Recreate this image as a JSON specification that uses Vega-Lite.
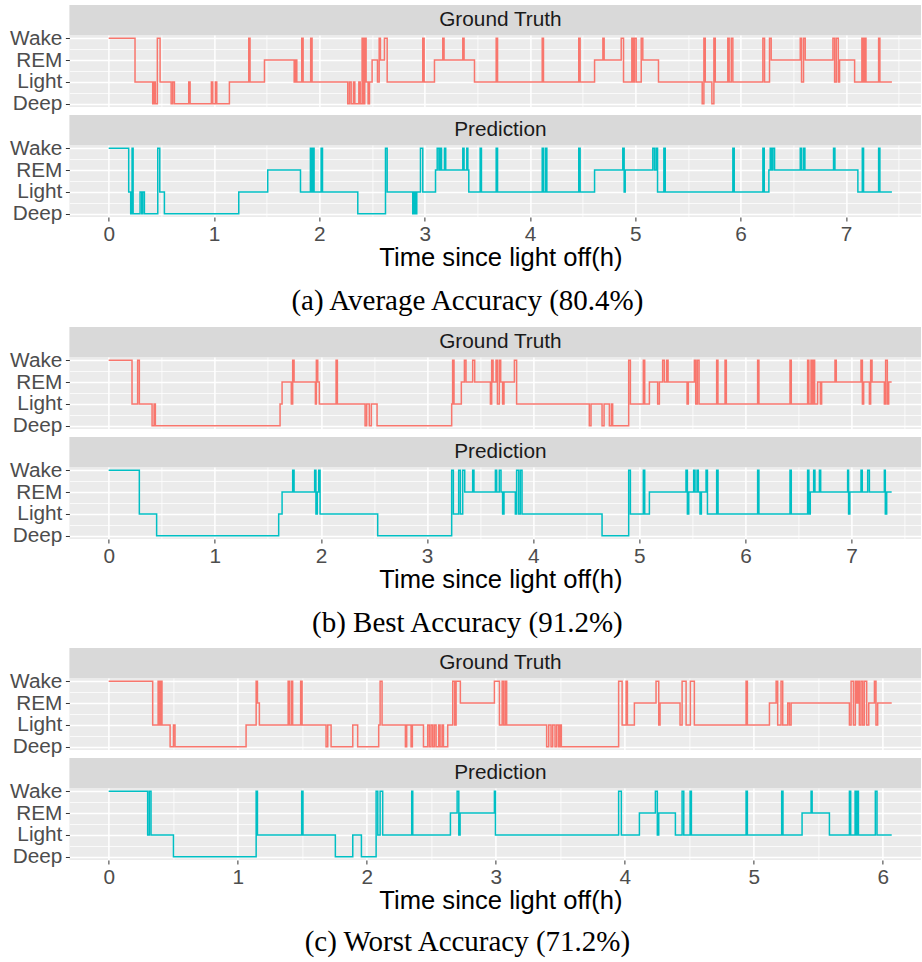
{
"$schema": "https://vega.github.io/schema/vega-lite/v6.json",
"padding": {"left": 9.4, "top": 5, "right": 0, "bottom": 0},
"background": "white",
"config": {
  "view": {"stroke": null},
  "font": "Liberation Sans",
  "axis": {"gridColor": "#FFFFFF", "domain": false, "labelFont": "Liberation Sans", "labelFontSize": 20.8, "labelColor": "#4D4D4D", "tickColor": "#333333", "tickSize": 4, "labelPadding": 3.5, "titleFont": "Liberation Sans", "titleFontSize": 25.6, "titleFontWeight": "normal", "titleColor": "#000000", "labelFlush": false, "labelOverlap": false, "labelBound": false}
},
"datasets": {
"a_gt": [{"t":0,"stage":4},{"t":0.25,"stage":2},{"t":0.418,"stage":1},{"t":0.431,"stage":2},{"t":0.443,"stage":1},{"t":0.462,"stage":4},{"t":0.488,"stage":2},{"t":0.593,"stage":1},{"t":0.608,"stage":2},{"t":0.624,"stage":1},{"t":0.76,"stage":2},{"t":0.773,"stage":1},{"t":0.975,"stage":2},{"t":0.988,"stage":1},{"t":1.013,"stage":2},{"t":1.026,"stage":1},{"t":1.146,"stage":2},{"t":1.33,"stage":4},{"t":1.342,"stage":2},{"t":1.479,"stage":3},{"t":1.761,"stage":2},{"t":1.773,"stage":3},{"t":1.786,"stage":2},{"t":1.833,"stage":4},{"t":1.846,"stage":2},{"t":1.918,"stage":4},{"t":1.931,"stage":2},{"t":2.27,"stage":1},{"t":2.286,"stage":2},{"t":2.302,"stage":1},{"t":2.324,"stage":2},{"t":2.337,"stage":1},{"t":2.375,"stage":2},{"t":2.388,"stage":1},{"t":2.406,"stage":4},{"t":2.419,"stage":1},{"t":2.431,"stage":4},{"t":2.444,"stage":2},{"t":2.463,"stage":1},{"t":2.476,"stage":2},{"t":2.501,"stage":3},{"t":2.552,"stage":2},{"t":2.568,"stage":4},{"t":2.58,"stage":3},{"t":2.618,"stage":4},{"t":2.644,"stage":2},{"t":2.982,"stage":4},{"t":2.995,"stage":2},{"t":3.093,"stage":3},{"t":3.172,"stage":4},{"t":3.184,"stage":3},{"t":3.362,"stage":4},{"t":3.374,"stage":3},{"t":3.473,"stage":2},{"t":3.679,"stage":4},{"t":3.692,"stage":2},{"t":4.116,"stage":4},{"t":4.128,"stage":2},{"t":4.463,"stage":4},{"t":4.476,"stage":2},{"t":4.613,"stage":3},{"t":4.692,"stage":4},{"t":4.704,"stage":3},{"t":4.866,"stage":4},{"t":4.888,"stage":2},{"t":4.967,"stage":4},{"t":4.98,"stage":2},{"t":4.992,"stage":4},{"t":5.008,"stage":2},{"t":5.056,"stage":4},{"t":5.071,"stage":3},{"t":5.22,"stage":2},{"t":5.635,"stage":1},{"t":5.651,"stage":4},{"t":5.664,"stage":2},{"t":5.727,"stage":1},{"t":5.746,"stage":4},{"t":5.759,"stage":2},{"t":5.878,"stage":4},{"t":5.891,"stage":2},{"t":5.911,"stage":4},{"t":5.926,"stage":2},{"t":6.211,"stage":4},{"t":6.227,"stage":2},{"t":6.274,"stage":4},{"t":6.29,"stage":3},{"t":6.566,"stage":4},{"t":6.578,"stage":2},{"t":6.597,"stage":4},{"t":6.613,"stage":3},{"t":6.876,"stage":4},{"t":6.892,"stage":2},{"t":6.908,"stage":4},{"t":6.927,"stage":2},{"t":6.939,"stage":3},{"t":7.082,"stage":2},{"t":7.151,"stage":4},{"t":7.164,"stage":2},{"t":7.177,"stage":4},{"t":7.19,"stage":2},{"t":7.31,"stage":4},{"t":7.322,"stage":2},{"t":7.436,"stage":2}],
"a_pred": [{"t":0,"stage":4},{"t":0.19,"stage":2},{"t":0.209,"stage":1},{"t":0.222,"stage":4},{"t":0.232,"stage":1},{"t":0.298,"stage":2},{"t":0.314,"stage":1},{"t":0.323,"stage":2},{"t":0.339,"stage":1},{"t":0.466,"stage":4},{"t":0.485,"stage":2},{"t":0.529,"stage":1},{"t":1.235,"stage":2},{"t":1.51,"stage":3},{"t":1.821,"stage":2},{"t":1.915,"stage":4},{"t":1.925,"stage":2},{"t":1.937,"stage":4},{"t":1.95,"stage":2},{"t":2.017,"stage":4},{"t":2.03,"stage":2},{"t":2.365,"stage":1},{"t":2.628,"stage":4},{"t":2.644,"stage":2},{"t":2.887,"stage":1},{"t":2.9,"stage":2},{"t":2.913,"stage":1},{"t":2.925,"stage":2},{"t":2.96,"stage":4},{"t":2.982,"stage":2},{"t":3.103,"stage":3},{"t":3.119,"stage":4},{"t":3.135,"stage":3},{"t":3.147,"stage":4},{"t":3.16,"stage":3},{"t":3.188,"stage":4},{"t":3.2,"stage":3},{"t":3.362,"stage":4},{"t":3.374,"stage":3},{"t":3.4,"stage":4},{"t":3.41,"stage":3},{"t":3.419,"stage":2},{"t":3.527,"stage":4},{"t":3.539,"stage":2},{"t":3.679,"stage":4},{"t":3.692,"stage":2},{"t":4.116,"stage":4},{"t":4.128,"stage":2},{"t":4.147,"stage":4},{"t":4.16,"stage":2},{"t":4.463,"stage":4},{"t":4.476,"stage":2},{"t":4.613,"stage":3},{"t":4.881,"stage":4},{"t":4.894,"stage":2},{"t":4.904,"stage":3},{"t":5.166,"stage":4},{"t":5.182,"stage":3},{"t":5.198,"stage":4},{"t":5.211,"stage":2},{"t":5.271,"stage":4},{"t":5.284,"stage":2},{"t":5.926,"stage":4},{"t":5.939,"stage":2},{"t":6.211,"stage":4},{"t":6.224,"stage":2},{"t":6.268,"stage":3},{"t":6.281,"stage":4},{"t":6.294,"stage":3},{"t":6.306,"stage":4},{"t":6.322,"stage":3},{"t":6.566,"stage":4},{"t":6.578,"stage":3},{"t":6.597,"stage":4},{"t":6.61,"stage":3},{"t":6.882,"stage":4},{"t":6.895,"stage":3},{"t":7.113,"stage":2},{"t":7.155,"stage":4},{"t":7.167,"stage":2},{"t":7.31,"stage":4},{"t":7.322,"stage":2},{"t":7.436,"stage":2}],
"b_gt": [{"t":0,"stage":4},{"t":0.22,"stage":2},{"t":0.273,"stage":4},{"t":0.289,"stage":2},{"t":0.409,"stage":1},{"t":0.428,"stage":2},{"t":0.44,"stage":1},{"t":1.615,"stage":2},{"t":1.634,"stage":3},{"t":1.721,"stage":2},{"t":1.734,"stage":4},{"t":1.747,"stage":3},{"t":1.948,"stage":2},{"t":1.957,"stage":4},{"t":1.97,"stage":3},{"t":1.985,"stage":2},{"t":2.143,"stage":4},{"t":2.155,"stage":2},{"t":2.416,"stage":1},{"t":2.431,"stage":2},{"t":2.456,"stage":1},{"t":2.475,"stage":2},{"t":2.529,"stage":1},{"t":3.232,"stage":2},{"t":3.241,"stage":4},{"t":3.254,"stage":2},{"t":3.323,"stage":3},{"t":3.352,"stage":4},{"t":3.367,"stage":3},{"t":3.43,"stage":4},{"t":3.449,"stage":3},{"t":3.597,"stage":2},{"t":3.609,"stage":4},{"t":3.622,"stage":3},{"t":3.65,"stage":4},{"t":3.663,"stage":2},{"t":3.681,"stage":4},{"t":3.694,"stage":3},{"t":3.712,"stage":2},{"t":3.725,"stage":3},{"t":3.823,"stage":4},{"t":3.844,"stage":2},{"t":4.529,"stage":1},{"t":4.545,"stage":2},{"t":4.649,"stage":1},{"t":4.668,"stage":2},{"t":4.718,"stage":1},{"t":4.737,"stage":2},{"t":4.749,"stage":1},{"t":4.9,"stage":4},{"t":4.916,"stage":2},{"t":5.038,"stage":4},{"t":5.051,"stage":2},{"t":5.095,"stage":3},{"t":5.173,"stage":2},{"t":5.189,"stage":3},{"t":5.22,"stage":4},{"t":5.236,"stage":3},{"t":5.258,"stage":4},{"t":5.271,"stage":3},{"t":5.45,"stage":2},{"t":5.462,"stage":3},{"t":5.519,"stage":4},{"t":5.532,"stage":2},{"t":5.547,"stage":4},{"t":5.563,"stage":2},{"t":5.729,"stage":4},{"t":5.741,"stage":2},{"t":5.808,"stage":4},{"t":5.82,"stage":2},{"t":6.115,"stage":4},{"t":6.127,"stage":2},{"t":6.42,"stage":4},{"t":6.432,"stage":2},{"t":6.586,"stage":4},{"t":6.598,"stage":2},{"t":6.618,"stage":4},{"t":6.63,"stage":2},{"t":6.64,"stage":4},{"t":6.652,"stage":2},{"t":6.68,"stage":3},{"t":6.706,"stage":2},{"t":6.718,"stage":3},{"t":6.844,"stage":4},{"t":6.856,"stage":3},{"t":7.089,"stage":4},{"t":7.102,"stage":2},{"t":7.114,"stage":3},{"t":7.168,"stage":2},{"t":7.18,"stage":4},{"t":7.193,"stage":3},{"t":7.309,"stage":2},{"t":7.321,"stage":4},{"t":7.337,"stage":2},{"t":7.35,"stage":3},{"t":7.378,"stage":3}],
"b_pred": [{"t":0,"stage":4},{"t":0.289,"stage":2},{"t":0.452,"stage":1},{"t":1.602,"stage":2},{"t":1.634,"stage":3},{"t":1.734,"stage":4},{"t":1.747,"stage":3},{"t":1.941,"stage":4},{"t":1.953,"stage":2},{"t":1.966,"stage":3},{"t":1.979,"stage":4},{"t":1.992,"stage":2},{"t":2.535,"stage":1},{"t":3.232,"stage":4},{"t":3.248,"stage":2},{"t":3.298,"stage":4},{"t":3.314,"stage":2},{"t":3.336,"stage":4},{"t":3.355,"stage":3},{"t":3.43,"stage":4},{"t":3.442,"stage":3},{"t":3.644,"stage":4},{"t":3.656,"stage":3},{"t":3.681,"stage":4},{"t":3.697,"stage":3},{"t":3.712,"stage":2},{"t":3.725,"stage":3},{"t":3.832,"stage":2},{"t":3.844,"stage":4},{"t":3.863,"stage":2},{"t":3.879,"stage":4},{"t":3.895,"stage":2},{"t":4.649,"stage":1},{"t":4.9,"stage":4},{"t":4.916,"stage":2},{"t":5.038,"stage":4},{"t":5.051,"stage":2},{"t":5.095,"stage":3},{"t":5.44,"stage":4},{"t":5.453,"stage":2},{"t":5.466,"stage":3},{"t":5.512,"stage":4},{"t":5.525,"stage":3},{"t":5.544,"stage":4},{"t":5.556,"stage":3},{"t":5.572,"stage":2},{"t":5.585,"stage":3},{"t":5.629,"stage":4},{"t":5.642,"stage":2},{"t":5.729,"stage":4},{"t":5.742,"stage":2},{"t":6.115,"stage":4},{"t":6.127,"stage":2},{"t":6.42,"stage":4},{"t":6.432,"stage":2},{"t":6.586,"stage":4},{"t":6.598,"stage":2},{"t":6.611,"stage":3},{"t":6.643,"stage":4},{"t":6.655,"stage":3},{"t":6.697,"stage":4},{"t":6.709,"stage":3},{"t":6.963,"stage":4},{"t":6.972,"stage":2},{"t":6.984,"stage":3},{"t":7.089,"stage":4},{"t":7.101,"stage":3},{"t":7.152,"stage":4},{"t":7.168,"stage":3},{"t":7.309,"stage":4},{"t":7.318,"stage":2},{"t":7.331,"stage":3},{"t":7.378,"stage":3}],
"c_gt": [{"t":0,"stage":4},{"t":0.341,"stage":2},{"t":0.383,"stage":4},{"t":0.393,"stage":2},{"t":0.403,"stage":4},{"t":0.413,"stage":2},{"t":0.476,"stage":1},{"t":0.502,"stage":2},{"t":0.514,"stage":1},{"t":1.065,"stage":2},{"t":1.143,"stage":4},{"t":1.153,"stage":3},{"t":1.168,"stage":2},{"t":1.391,"stage":4},{"t":1.401,"stage":2},{"t":1.416,"stage":4},{"t":1.426,"stage":2},{"t":1.488,"stage":4},{"t":1.499,"stage":2},{"t":1.685,"stage":1},{"t":1.698,"stage":2},{"t":1.724,"stage":1},{"t":1.892,"stage":2},{"t":1.93,"stage":1},{"t":2.093,"stage":2},{"t":2.104,"stage":4},{"t":2.119,"stage":2},{"t":2.3,"stage":1},{"t":2.31,"stage":2},{"t":2.344,"stage":1},{"t":2.354,"stage":2},{"t":2.44,"stage":1},{"t":2.473,"stage":2},{"t":2.486,"stage":1},{"t":2.499,"stage":2},{"t":2.512,"stage":1},{"t":2.525,"stage":2},{"t":2.538,"stage":1},{"t":2.558,"stage":2},{"t":2.569,"stage":1},{"t":2.584,"stage":2},{"t":2.595,"stage":1},{"t":2.628,"stage":2},{"t":2.667,"stage":4},{"t":2.682,"stage":2},{"t":2.693,"stage":4},{"t":2.726,"stage":3},{"t":2.99,"stage":4},{"t":3.029,"stage":2},{"t":3.05,"stage":4},{"t":3.062,"stage":2},{"t":3.075,"stage":4},{"t":3.085,"stage":2},{"t":3.395,"stage":1},{"t":3.411,"stage":2},{"t":3.429,"stage":1},{"t":3.442,"stage":2},{"t":3.46,"stage":1},{"t":3.473,"stage":2},{"t":3.488,"stage":1},{"t":3.499,"stage":2},{"t":3.509,"stage":1},{"t":3.953,"stage":4},{"t":3.98,"stage":2},{"t":4.011,"stage":4},{"t":4.021,"stage":2},{"t":4.075,"stage":3},{"t":4.243,"stage":4},{"t":4.264,"stage":2},{"t":4.274,"stage":3},{"t":4.429,"stage":2},{"t":4.445,"stage":4},{"t":4.476,"stage":2},{"t":4.509,"stage":4},{"t":4.54,"stage":2},{"t":4.941,"stage":4},{"t":4.951,"stage":2},{"t":5.122,"stage":3},{"t":5.174,"stage":4},{"t":5.186,"stage":2},{"t":5.212,"stage":4},{"t":5.225,"stage":2},{"t":5.264,"stage":3},{"t":5.277,"stage":2},{"t":5.29,"stage":3},{"t":5.742,"stage":2},{"t":5.755,"stage":4},{"t":5.773,"stage":2},{"t":5.788,"stage":4},{"t":5.798,"stage":3},{"t":5.809,"stage":4},{"t":5.819,"stage":2},{"t":5.832,"stage":4},{"t":5.845,"stage":2},{"t":5.858,"stage":4},{"t":5.876,"stage":2},{"t":5.892,"stage":3},{"t":5.936,"stage":4},{"t":5.948,"stage":2},{"t":5.961,"stage":3},{"t":6.07,"stage":3}],
"c_pred": [{"t":0,"stage":4},{"t":0.302,"stage":2},{"t":0.315,"stage":4},{"t":0.328,"stage":2},{"t":0.502,"stage":1},{"t":1.143,"stage":4},{"t":1.153,"stage":2},{"t":1.496,"stage":4},{"t":1.506,"stage":2},{"t":1.757,"stage":1},{"t":1.892,"stage":2},{"t":1.959,"stage":1},{"t":2.073,"stage":4},{"t":2.086,"stage":2},{"t":2.104,"stage":4},{"t":2.124,"stage":2},{"t":2.349,"stage":4},{"t":2.357,"stage":2},{"t":2.649,"stage":3},{"t":2.701,"stage":4},{"t":2.714,"stage":2},{"t":2.724,"stage":3},{"t":2.99,"stage":4},{"t":2.998,"stage":2},{"t":3.953,"stage":4},{"t":3.974,"stage":2},{"t":4.114,"stage":3},{"t":4.238,"stage":4},{"t":4.253,"stage":2},{"t":4.264,"stage":3},{"t":4.393,"stage":2},{"t":4.445,"stage":4},{"t":4.458,"stage":2},{"t":4.507,"stage":4},{"t":4.517,"stage":2},{"t":4.941,"stage":4},{"t":4.951,"stage":2},{"t":5.217,"stage":4},{"t":5.227,"stage":2},{"t":5.375,"stage":3},{"t":5.445,"stage":4},{"t":5.453,"stage":3},{"t":5.587,"stage":2},{"t":5.742,"stage":4},{"t":5.752,"stage":2},{"t":5.786,"stage":4},{"t":5.793,"stage":2},{"t":5.804,"stage":4},{"t":5.812,"stage":2},{"t":5.943,"stage":4},{"t":5.956,"stage":2},{"t":6.07,"stage":2}]
},
"spacing": 0,
"bounds": "flush",
"vconcat": [
 {"width": 852, "height": 30, "view": {"fill": "#D9D9D9", "stroke": null}, "data": {"values": [{"label": "Ground Truth"}]}, "mark": {"type": "text", "fontSize": 20.8, "color": "#1A1A1A", "dx": 5}, "encoding": {"text": {"field": "label"}}},
 {"width": 852, "height": 72, "view": {"fill": "#EBEBEB", "stroke": null}, "data": {"name": "a_gt"},
  "mark": {"type": "line", "interpolate": "step-after", "color": "#F8766D", "strokeWidth": 1.5},
  "encoding": {
   "x": {"field": "t", "type": "quantitative", "scale": {"domain": [-0.373, 7.716], "nice": false, "zero": false}, "axis": {"values": [0,0.5,1,1.5,2,2.5,3,3.5,4,4.5,5,5.5,6,6.5,7,7.5], "labels": false, "ticks": false, "title": null, "gridWidth": {"condition": {"test": "datum.value % 1 === 0", "value": 1.5}, "value": 0.75}}},
   "y": {"field": "stage", "type": "quantitative", "scale": {"domain": [0.85, 4.15], "nice": false, "zero": false}, "axis": {"values": [1,1.5,2,2.5,3,3.5,4], "title": null, "labelExpr": "datum.value === 4 ? 'Wake' : datum.value === 3 ? 'REM' : datum.value === 2 ? 'Light' : datum.value === 1 ? 'Deep' : ''", "gridWidth": {"condition": {"test": "datum.value % 1 === 0", "value": 1.5}, "value": 0.75}, "tickOpacity": {"condition": {"test": "datum.value % 1 === 0", "value": 1}, "value": 0}}}
  }},
 {"width": 852, "height": 7.7, "data": {"values": [{"label": ""}]}, "mark": {"type": "text"}, "encoding": {"text": {"field": "label"}}},
 {"width": 852, "height": 30, "view": {"fill": "#D9D9D9", "stroke": null}, "data": {"values": [{"label": "Prediction"}]}, "mark": {"type": "text", "fontSize": 20.8, "color": "#1A1A1A", "dx": 5}, "encoding": {"text": {"field": "label"}}},
 {"width": 852, "height": 72, "view": {"fill": "#EBEBEB", "stroke": null}, "data": {"name": "a_pred"},
  "mark": {"type": "line", "interpolate": "step-after", "color": "#00BFC4", "strokeWidth": 1.5},
  "encoding": {
   "x": {"field": "t", "type": "quantitative", "scale": {"domain": [-0.373, 7.716], "nice": false, "zero": false}, "axis": {"values": [0,0.5,1,1.5,2,2.5,3,3.5,4,4.5,5,5.5,6,6.5,7,7.5], "title": "Time since light off(h)", "titlePadding": 1.5, "titleX": 431, "labelExpr": "datum.value % 1 === 0 ? '' + datum.value : ''", "gridWidth": {"condition": {"test": "datum.value % 1 === 0", "value": 1.5}, "value": 0.75}, "tickOpacity": {"condition": {"test": "datum.value % 1 === 0", "value": 1}, "value": 0}}},
   "y": {"field": "stage", "type": "quantitative", "scale": {"domain": [0.85, 4.15], "nice": false, "zero": false}, "axis": {"values": [1,1.5,2,2.5,3,3.5,4], "title": null, "labelExpr": "datum.value === 4 ? 'Wake' : datum.value === 3 ? 'REM' : datum.value === 2 ? 'Light' : datum.value === 1 ? 'Deep' : ''", "gridWidth": {"condition": {"test": "datum.value % 1 === 0", "value": 1.5}, "value": 0.75}, "tickOpacity": {"condition": {"test": "datum.value % 1 === 0", "value": 1}, "value": 0}}}
  }},
 {"width": 852, "height": 109.3, "data": {"values": [{"caption": "(a) Average Accuracy (80.4%)"}]}, "mark": {"type": "text", "font": "Liberation Serif", "fontSize": 29, "color": "#000000", "dx": -28, "dy": 29}, "encoding": {"text": {"field": "caption"}}},

 {"width": 852, "height": 30, "view": {"fill": "#D9D9D9", "stroke": null}, "data": {"values": [{"label": "Ground Truth"}]}, "mark": {"type": "text", "fontSize": 20.8, "color": "#1A1A1A", "dx": 5}, "encoding": {"text": {"field": "label"}}},
 {"width": 852, "height": 72, "view": {"fill": "#EBEBEB", "stroke": null}, "data": {"name": "b_gt"},
  "mark": {"type": "line", "interpolate": "step-after", "color": "#F8766D", "strokeWidth": 1.5},
  "encoding": {
   "x": {"field": "t", "type": "quantitative", "scale": {"domain": [-0.370, 7.658], "nice": false, "zero": false}, "axis": {"values": [0,0.5,1,1.5,2,2.5,3,3.5,4,4.5,5,5.5,6,6.5,7,7.5], "labels": false, "ticks": false, "title": null, "gridWidth": {"condition": {"test": "datum.value % 1 === 0", "value": 1.5}, "value": 0.75}}},
   "y": {"field": "stage", "type": "quantitative", "scale": {"domain": [0.85, 4.15], "nice": false, "zero": false}, "axis": {"values": [1,1.5,2,2.5,3,3.5,4], "title": null, "labelExpr": "datum.value === 4 ? 'Wake' : datum.value === 3 ? 'REM' : datum.value === 2 ? 'Light' : datum.value === 1 ? 'Deep' : ''", "gridWidth": {"condition": {"test": "datum.value % 1 === 0", "value": 1.5}, "value": 0.75}, "tickOpacity": {"condition": {"test": "datum.value % 1 === 0", "value": 1}, "value": 0}}}
  }},
 {"width": 852, "height": 7.7, "data": {"values": [{"label": ""}]}, "mark": {"type": "text"}, "encoding": {"text": {"field": "label"}}},
 {"width": 852, "height": 30, "view": {"fill": "#D9D9D9", "stroke": null}, "data": {"values": [{"label": "Prediction"}]}, "mark": {"type": "text", "fontSize": 20.8, "color": "#1A1A1A", "dx": 5}, "encoding": {"text": {"field": "label"}}},
 {"width": 852, "height": 72, "view": {"fill": "#EBEBEB", "stroke": null}, "data": {"name": "b_pred"},
  "mark": {"type": "line", "interpolate": "step-after", "color": "#00BFC4", "strokeWidth": 1.5},
  "encoding": {
   "x": {"field": "t", "type": "quantitative", "scale": {"domain": [-0.370, 7.658], "nice": false, "zero": false}, "axis": {"values": [0,0.5,1,1.5,2,2.5,3,3.5,4,4.5,5,5.5,6,6.5,7,7.5], "title": "Time since light off(h)", "titlePadding": 1.5, "titleX": 431, "labelExpr": "datum.value % 1 === 0 ? '' + datum.value : ''", "gridWidth": {"condition": {"test": "datum.value % 1 === 0", "value": 1.5}, "value": 0.75}, "tickOpacity": {"condition": {"test": "datum.value % 1 === 0", "value": 1}, "value": 0}}},
   "y": {"field": "stage", "type": "quantitative", "scale": {"domain": [0.85, 4.15], "nice": false, "zero": false}, "axis": {"values": [1,1.5,2,2.5,3,3.5,4], "title": null, "labelExpr": "datum.value === 4 ? 'Wake' : datum.value === 3 ? 'REM' : datum.value === 2 ? 'Light' : datum.value === 1 ? 'Deep' : ''", "gridWidth": {"condition": {"test": "datum.value % 1 === 0", "value": 1.5}, "value": 0.75}, "tickOpacity": {"condition": {"test": "datum.value % 1 === 0", "value": 1}, "value": 0}}}
  }},
 {"width": 852, "height": 108.3, "data": {"values": [{"caption": "(b) Best Accuracy (91.2%)"}]}, "mark": {"type": "text", "font": "Liberation Serif", "fontSize": 29, "color": "#000000", "dx": -28, "dy": 30}, "encoding": {"text": {"field": "caption"}}},

 {"width": 852, "height": 30, "view": {"fill": "#D9D9D9", "stroke": null}, "data": {"values": [{"label": "Ground Truth"}]}, "mark": {"type": "text", "fontSize": 20.8, "color": "#1A1A1A", "dx": 5}, "encoding": {"text": {"field": "label"}}},
 {"width": 852, "height": 72, "view": {"fill": "#EBEBEB", "stroke": null}, "data": {"name": "c_gt"},
  "mark": {"type": "line", "interpolate": "step-after", "color": "#F8766D", "strokeWidth": 1.5},
  "encoding": {
   "x": {"field": "t", "type": "quantitative", "scale": {"domain": [-0.3047, 6.30], "nice": false, "zero": false}, "axis": {"values": [0,0.5,1,1.5,2,2.5,3,3.5,4,4.5,5,5.5,6], "labels": false, "ticks": false, "title": null, "gridWidth": {"condition": {"test": "datum.value % 1 === 0", "value": 1.5}, "value": 0.75}}},
   "y": {"field": "stage", "type": "quantitative", "scale": {"domain": [0.85, 4.15], "nice": false, "zero": false}, "axis": {"values": [1,1.5,2,2.5,3,3.5,4], "title": null, "labelExpr": "datum.value === 4 ? 'Wake' : datum.value === 3 ? 'REM' : datum.value === 2 ? 'Light' : datum.value === 1 ? 'Deep' : ''", "gridWidth": {"condition": {"test": "datum.value % 1 === 0", "value": 1.5}, "value": 0.75}, "tickOpacity": {"condition": {"test": "datum.value % 1 === 0", "value": 1}, "value": 0}}}
  }},
 {"width": 852, "height": 7.7, "data": {"values": [{"label": ""}]}, "mark": {"type": "text"}, "encoding": {"text": {"field": "label"}}},
 {"width": 852, "height": 30, "view": {"fill": "#D9D9D9", "stroke": null}, "data": {"values": [{"label": "Prediction"}]}, "mark": {"type": "text", "fontSize": 20.8, "color": "#1A1A1A", "dx": 5}, "encoding": {"text": {"field": "label"}}},
 {"width": 852, "height": 72, "view": {"fill": "#EBEBEB", "stroke": null}, "data": {"name": "c_pred"},
  "mark": {"type": "line", "interpolate": "step-after", "color": "#00BFC4", "strokeWidth": 1.5},
  "encoding": {
   "x": {"field": "t", "type": "quantitative", "scale": {"domain": [-0.3047, 6.30], "nice": false, "zero": false}, "axis": {"values": [0,0.5,1,1.5,2,2.5,3,3.5,4,4.5,5,5.5,6], "title": "Time since light off(h)", "titlePadding": 1.5, "titleX": 431, "labelExpr": "datum.value % 1 === 0 ? '' + datum.value : ''", "gridWidth": {"condition": {"test": "datum.value % 1 === 0", "value": 1.5}, "value": 0.75}, "tickOpacity": {"condition": {"test": "datum.value % 1 === 0", "value": 1}, "value": 0}}},
   "y": {"field": "stage", "type": "quantitative", "scale": {"domain": [0.85, 4.15], "nice": false, "zero": false}, "axis": {"values": [1,1.5,2,2.5,3,3.5,4], "title": null, "labelExpr": "datum.value === 4 ? 'Wake' : datum.value === 3 ? 'REM' : datum.value === 2 ? 'Light' : datum.value === 1 ? 'Deep' : ''", "gridWidth": {"condition": {"test": "datum.value % 1 === 0", "value": 1.5}, "value": 0.75}, "tickOpacity": {"condition": {"test": "datum.value % 1 === 0", "value": 1}, "value": 0}}}
  }},
 {"width": 852, "height": 100, "data": {"values": [{"caption": "(c) Worst Accuracy (71.2%)"}]}, "mark": {"type": "text", "font": "Liberation Serif", "fontSize": 29, "color": "#000000", "dx": -28, "dy": 32}, "encoding": {"text": {"field": "caption"}}}
]
}
